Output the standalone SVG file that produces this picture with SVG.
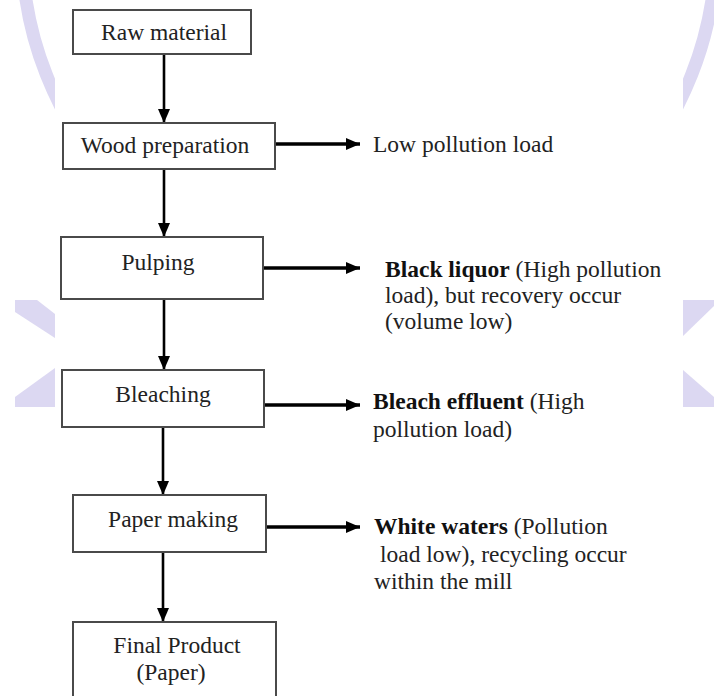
<svg xmlns="http://www.w3.org/2000/svg" width="714" height="696" viewBox="0 0 714 696">
  <style>
    .box { fill: #ffffff; stroke: #4a4a4a; stroke-width: 2; }
    .t { font-family: "Liberation Serif", "Times New Roman", serif; font-size: 23.5px; fill: #222; }
    .c { text-anchor: middle; }
    .b { font-weight: bold; fill: #111; }
    .v { stroke: #000; stroke-width: 2.6; fill: none; }
    .h { stroke: #000; stroke-width: 3.4; fill: none; }
    .wm { fill: #dcd8f2; }
  </style>
  <defs>
    <marker id="ah" markerUnits="userSpaceOnUse" markerWidth="14" markerHeight="12" viewBox="0 0 14 12" refX="14" refY="6" orient="auto">
      <path d="M0,0 L14,6 L0,12 z" fill="#000"/>
    </marker>
    <clipPath id="sides">
      <rect x="0" y="0" width="55" height="696"/>
      <rect x="683" y="0" width="31" height="696"/>
    </clipPath>
  </defs>
  <rect width="714" height="696" fill="#ffffff"/>
  <!-- background watermark -->
  <g id="watermark">
    <circle cx="369" cy="-53" r="347" fill="none" stroke="#dcd8f2" stroke-width="13" clip-path="url(#sides)"/>
    <polygon class="wm" points="15,300 37,300 55,314 55,338 15,312"/>
    <polygon class="wm" points="55,368 55,407 15,407 15,397"/>
    <polygon class="wm" points="683,300 714,300 714,306 683,336"/>
    <polygon class="wm" points="683,370 714,397 714,407 683,407"/>
  </g>
  <g id="connectors">
    <line class="v" x1="164" y1="54" x2="164" y2="123" marker-end="url(#ah)"/>
    <line class="v" x1="164" y1="169" x2="164" y2="237" marker-end="url(#ah)"/>
    <line class="v" x1="164" y1="299" x2="164" y2="370" marker-end="url(#ah)"/>
    <line class="v" x1="163" y1="427" x2="163" y2="495" marker-end="url(#ah)"/>
    <line class="v" x1="163" y1="552" x2="163" y2="622" marker-end="url(#ah)"/>
    <line class="h" x1="275" y1="144" x2="360" y2="144" marker-end="url(#ah)"/>
    <line class="h" x1="263" y1="268" x2="360" y2="268" marker-end="url(#ah)"/>
    <line class="h" x1="264" y1="405" x2="360" y2="405" marker-end="url(#ah)"/>
    <line class="h" x1="266" y1="527" x2="360" y2="527" marker-end="url(#ah)"/>
  </g>
  <g id="raw">
    <rect class="box" x="73" y="10" width="178" height="44"/>
    <text class="t c" x="164" y="40">Raw material</text>
  </g>
  <g id="wood">
    <rect class="box" x="63" y="123" width="212" height="46"/>
    <text class="t c" x="165" y="153">Wood preparation</text>
  </g>
  <g id="wood-out">
    <text class="t" x="373" y="152">Low pollution load</text>
  </g>
  <g id="pulping">
    <rect class="box" x="61" y="237" width="202" height="62"/>
    <text class="t c" x="158" y="270">Pulping</text>
  </g>
  <g id="pulping-out">
    <text class="t" x="385" y="277"><tspan class="b">Black liquor</tspan> (High pollution</text>
    <text class="t" x="385" y="303">load), but recovery occur</text>
    <text class="t" x="385" y="329">(volume low)</text>
  </g>
  <g id="bleaching">
    <rect class="box" x="62" y="370" width="202" height="57"/>
    <text class="t c" x="163" y="402">Bleaching</text>
  </g>
  <g id="bleaching-out">
    <text class="t" x="373" y="409"><tspan class="b">Bleach effluent</tspan> (High</text>
    <text class="t" x="373" y="437">pollution load)</text>
  </g>
  <g id="papermaking">
    <rect class="box" x="73" y="495" width="193" height="57"/>
    <text class="t c" x="173" y="527">Paper making</text>
  </g>
  <g id="papermaking-out">
    <text class="t" x="374" y="534"><tspan class="b">White waters</tspan> (Pollution</text>
    <text class="t" x="380" y="562">load low), recycling occur</text>
    <text class="t" x="374" y="589">within the mill</text>
  </g>
  <g id="final">
    <rect class="box" x="73" y="622" width="203" height="80"/>
    <text class="t c" x="177" y="653">Final Product</text>
    <text class="t c" x="171" y="680">(Paper)</text>
  </g>
</svg>
